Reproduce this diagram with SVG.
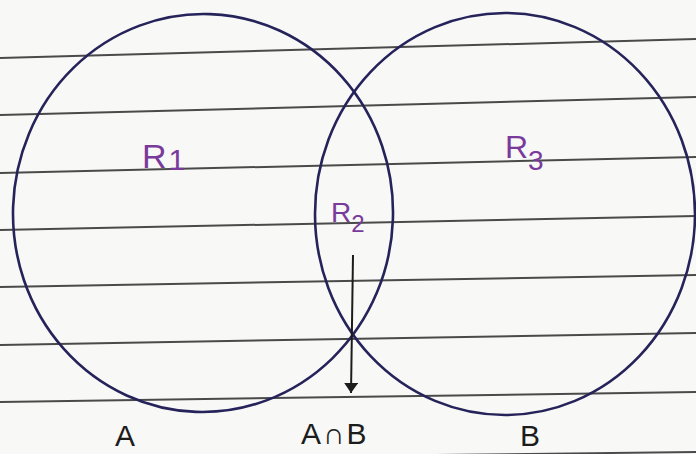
<svg xmlns="http://www.w3.org/2000/svg" width="696" height="454" viewBox="0 0 696 454">
  <defs>
    <style>
      .rule { stroke: #4a4a4a; stroke-width: 2; fill: none; }
      .set { fill: none; stroke: #25235a; stroke-width: 2.6; }
      .region { font-family: "Liberation Sans", "DejaVu Sans", sans-serif; fill: #7a3a9c; }
      .label { font-family: "Liberation Sans", "DejaVu Sans", sans-serif; fill: #1c1c1c; font-size: 30px; }
      .arrow { stroke: #1c1c1c; stroke-width: 2; fill: none; }
    </style>
    <marker id="head" viewBox="0 0 10 14" refX="10" refY="7" markerWidth="10" markerHeight="14" markerUnits="userSpaceOnUse" orient="auto">
      <path d="M0,0 L10,7 L0,14 Z" fill="#1c1c1c"/>
    </marker>
  </defs>
  <rect x="0" y="0" width="696" height="454" fill="#f8f8f6"/>
  <g id="paper-lines">
    <line class="rule" x1="0" y1="58" x2="696" y2="39"/>
    <line class="rule" x1="0" y1="115" x2="696" y2="97"/>
    <line class="rule" x1="0" y1="173" x2="696" y2="157"/>
    <line class="rule" x1="0" y1="230" x2="696" y2="216"/>
    <line class="rule" x1="0" y1="287" x2="696" y2="275"/>
    <line class="rule" x1="0" y1="345" x2="696" y2="333"/>
    <line class="rule" x1="0" y1="402" x2="696" y2="392"/>
    <line class="rule" x1="0" y1="460" x2="696" y2="452"/>
  </g>
  <g id="set-A">
    <ellipse class="set" cx="203" cy="213" rx="190" ry="199" transform="rotate(2 203 213)"/>
    <text class="label" x="115" y="446">A</text>
  </g>
  <g id="set-B">
    <ellipse class="set" cx="505" cy="214" rx="190" ry="201"/>
    <text class="label" x="520" y="446">B</text>
  </g>
  <g id="region-R1">
    <text class="region" x="142" y="168" font-size="34">R<tspan font-size="30" dx="2" dy="2">1</tspan></text>
  </g>
  <g id="region-R2">
    <text class="region" x="331" y="222" font-size="28">R<tspan font-size="24" dx="0" dy="10">2</tspan></text>
  </g>
  <g id="region-R3">
    <text class="region" x="505" y="158" font-size="32">R<tspan font-size="28" dx="0" dy="12">3</tspan></text>
  </g>
  <g id="intersection-label">
    <text class="label" x="301" y="444" letter-spacing="2">A∩B</text>
  </g>
  <g id="connectors">
    <line class="arrow" x1="353" y1="255" x2="351" y2="393" marker-end="url(#head)"/>
  </g>
</svg>
